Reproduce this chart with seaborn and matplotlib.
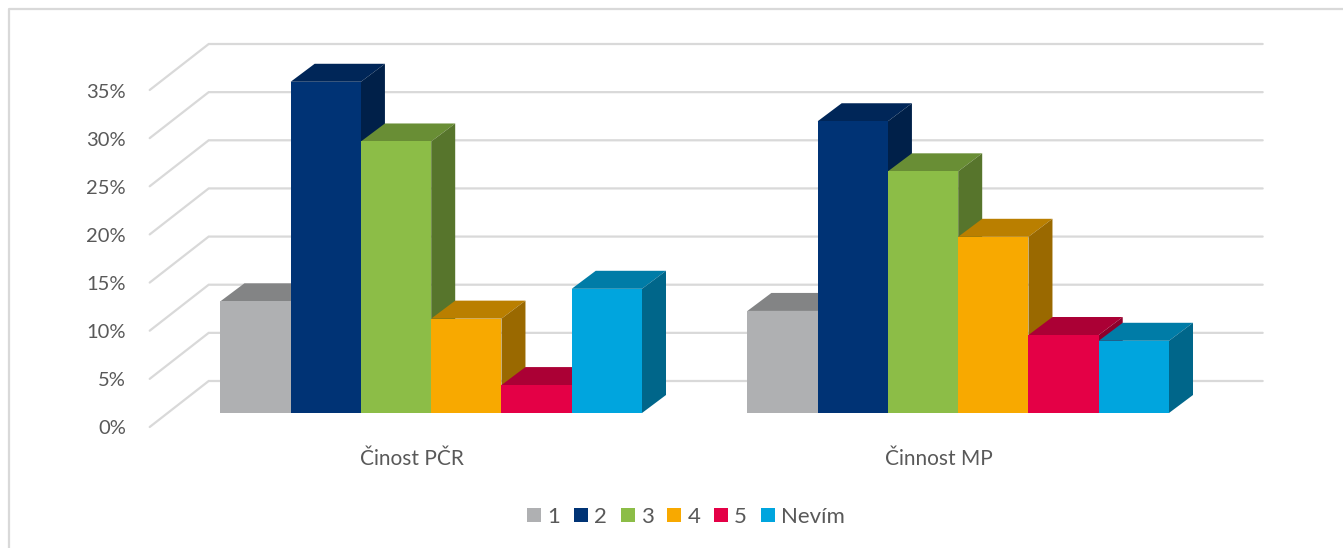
import matplotlib
matplotlib.use("Agg")
import matplotlib.pyplot as plt
import pandas as pd
import seaborn as sns
from matplotlib.colors import to_rgb
from matplotlib.lines import Line2D
from matplotlib.patches import Polygon
from matplotlib.transforms import ScaledTranslation

categories = ["Činost PČR", "Činnost MP"]
responses = ["1", "2", "3", "4", "5", "Nevím"]
pcr_values = [11.6, 34.4, 28.2, 9.8, 2.9, 12.9]
mp_values = [10.6, 30.3, 25.1, 18.3, 8.1, 7.5]
colors = ["#AFB0B2", "#003375", "#8CBD47", "#F8A900", "#E40046", "#00A5DE"]
y_ticks = [0, 5, 10, 15, 20, 25, 30, 35]
y_tick_labels = ["0%", "5%", "10%", "15%", "20%", "25%", "30%", "35%"]

W, H = 1343, 548
TEXT = "#595959"
GRID = "#D9D9D9"

# pixel geometry of the fake 3D box
LEFT, RIGHT = 167.7, 1221.7
BOTTOM, TOP = 413, 76
BAR_DX, BAR_DY = 24, 18
FRONT_DX, FRONT_DY = -18, -14
BACK_DX, BACK_DY = 41, 32

sns.set_style("white")
plt.rcParams["font.family"] = ["Lato", "DejaVu Sans"]

df = pd.DataFrame({
    "cat": [categories[0]] * 6 + [categories[1]] * 6,
    "resp": responses * 2,
    "val": pcr_values + mp_values,
})

fig = plt.figure(figsize=(W / 100, H / 100), dpi=100)
ax = fig.add_axes([LEFT / W, 1 - BOTTOM / H, (RIGHT - LEFT) / W, (BOTTOM - TOP) / H])

sns.barplot(data=df, x="cat", y="val", hue="resp", hue_order=responses, order=categories,
            palette=colors, width=0.8, saturation=1, linewidth=0, ax=ax)

ax.set_xlim(-0.5, 1.5)
ax.set_ylim(0, 35)
ax.set_xlabel("")
ax.set_ylabel("")
sns.despine(ax=ax, left=True, bottom=True)
ax.patch.set_alpha(0)

# px to data units
ux = 2 / (RIGHT - LEFT)
uy = 35 / (BOTTOM - TOP)

# back wall grid and the slanted left wall lines
for v in y_ticks:
    ax.plot([-0.5 + FRONT_DX * ux, -0.5 + BACK_DX * ux, 1.5 + BACK_DX * ux],
            [v + FRONT_DY * uy, v + BACK_DY * uy, v + BACK_DY * uy],
            color=GRID, lw=1.6, clip_on=False, zorder=1, solid_joinstyle="miter")

# top and side faces, built from the bars seaborn drew
for i, container in enumerate(ax.containers):
    rgb = to_rgb(colors[i])
    top_col = tuple(c * 0.75 for c in rgb)
    side_col = tuple(c * 0.62 for c in rgb)
    for bar in container:
        x0, x1 = bar.get_x(), bar.get_x() + bar.get_width()
        h = bar.get_height()
        dx, dy = BAR_DX * ux, BAR_DY * uy
        top = Polygon([(x0, h), (x1, h), (x1 + dx, h + dy), (x0 + dx, h + dy)],
                      facecolor=top_col, lw=0, clip_on=False, zorder=3 + i)
        side = Polygon([(x1, 0), (x1 + dx, dy), (x1 + dx, h + dy), (x1, h)],
                       facecolor=side_col, lw=0, clip_on=False, zorder=3 + i)
        ax.add_patch(top)
        ax.add_patch(side)
        bar.set_zorder(3.5 + i)

ax.set_yticks(y_ticks, y_tick_labels)
ax.tick_params(axis="y", length=0, labelsize=14.5, labelcolor=TEXT, pad=30)
ax.tick_params(axis="x", length=0, labelsize=15, labelcolor=TEXT, pad=26)

# labels sit on the front edge of the floor, not on the bar plane
for lab in ax.get_yticklabels():
    lab.set_transform(lab.get_transform() + ScaledTranslation(0, (FRONT_DY - 0.5) / 100, fig.dpi_scale_trans))
for lab in ax.get_xticklabels():
    lab.set_transform(lab.get_transform() + ScaledTranslation((FRONT_DX - 1) / 100, 0, fig.dpi_scale_trans))

handles, labels = ax.get_legend_handles_labels()
ax.legend(handles, labels, loc="center", bbox_to_anchor=(686 / W, 1 - 517 / H),
          bbox_transform=fig.transFigure, ncol=6, frameon=False, fontsize=16,
          labelcolor=TEXT, handlelength=0.63, handleheight=0.63, handletextpad=0.27,
          columnspacing=0.62, borderpad=0, borderaxespad=0)

# chart frame, cut off by the screenshot on the right and bottom
fig.add_artist(Line2D([9 / W, 9 / W, 1], [0, 1 - 9 / H, 1 - 9 / H], color=GRID, lw=1.6))

fig.savefig("out.png", dpi=100)
plt.close(fig)
